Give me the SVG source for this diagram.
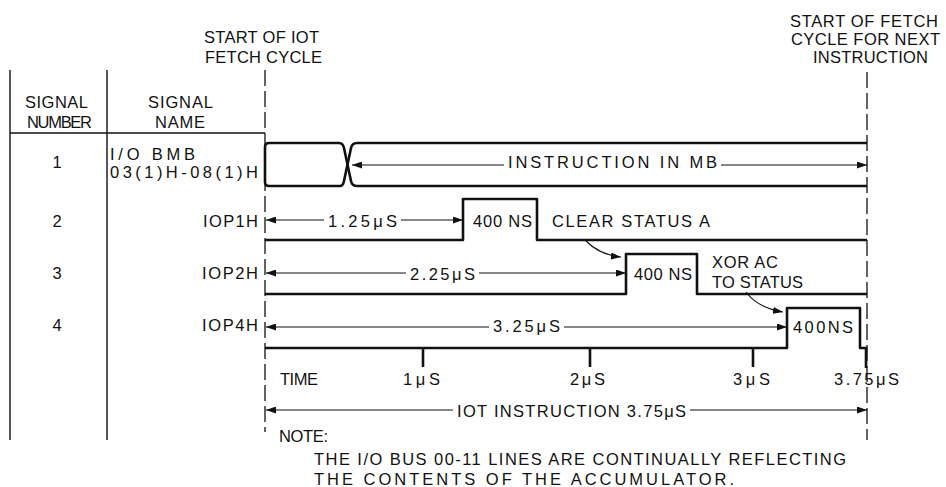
<svg xmlns="http://www.w3.org/2000/svg" width="946" height="487" viewBox="0 0 946 487">
<defs>
<marker id="ah" viewBox="0 0 10 7" refX="10" refY="3.5" markerWidth="10" markerHeight="7" markerUnits="userSpaceOnUse" orient="auto-start-reverse">
<path d="M0,0 L10,3.5 L0,7 z" fill="#111"/>
</marker>
<style>
text{font-family:"Liberation Sans",Arial,sans-serif;font-size:16.5px;fill:#111}
.m{text-anchor:middle}
.sig{fill:none;stroke:#111;stroke-width:2.6;stroke-linejoin:round}
.grid{fill:none;stroke:#111;stroke-width:1.4}
.dash{fill:none;stroke:#111;stroke-width:1.3;stroke-dasharray:16,5}
.arr{fill:none;stroke:#111;stroke-width:1.1}
.tick{stroke:#111;stroke-width:2.6}
</style>
</defs>
<rect width="946" height="487" fill="#fff"/>

<g id="table">
<line class="grid" x1="10" y1="70" x2="10" y2="440"/>
<line class="grid" x1="107" y1="70" x2="107" y2="440"/>
<line class="grid" x1="10" y1="133" x2="265" y2="133"/>
<line class="dash" x1="265" y1="70" x2="265" y2="432"/>
<line class="dash" x1="867" y1="72" x2="867" y2="440"/>
<text x="204" y="43" textLength="115" lengthAdjust="spacing">START OF IOT</text>
<text x="205" y="63" textLength="117" lengthAdjust="spacing">FETCH CYCLE</text>
<text x="25" y="108" textLength="63" lengthAdjust="spacing">SIGNAL</text>
<text x="27" y="128" textLength="65" lengthAdjust="spacing">NUMBER</text>
<text x="148" y="108" textLength="65" lengthAdjust="spacing">SIGNAL</text>
<text x="155" y="128" textLength="50" lengthAdjust="spacing">NAME</text>
<text x="790" y="27" textLength="148" lengthAdjust="spacing">START OF FETCH</text>
<text x="791" y="45" textLength="149" lengthAdjust="spacing">CYCLE FOR NEXT</text>
<text x="813" y="63" textLength="115" lengthAdjust="spacing">INSTRUCTION</text>
</g>

<g id="signal1">
<text class="m" x="57" y="168">1</text>
<text x="110" y="160" textLength="85" lengthAdjust="spacing">I/O BMB</text>
<text x="110" y="178" textLength="148" lengthAdjust="spacing">03(1)H-08(1)H</text>
<path class="sig" d="M340,186 L269,186 Q265,186 265,182 L265,147 Q265,143 269,143 L339,143 Q343,143 344,148 L351,181 Q352,186 357,186 L867,186"/>
<path class="sig" d="M340,186 Q343,186 344,181 L351,148 Q352,143 357,143 L867,143"/>
<text x="508" y="168" textLength="209" lengthAdjust="spacing">INSTRUCTION IN MB</text>
</g>

<g id="signal2">
<text class="m" x="57" y="227">2</text>
<text x="203" y="227" textLength="55" lengthAdjust="spacing">IOP1H</text>
<path class="sig" d="M265,240 L463,240 L463,199 L537,199 L537,240 L867,240"/>
<text x="328" y="227" textLength="69" lengthAdjust="spacing">1.25μS</text>
<text x="473" y="227" textLength="59" lengthAdjust="spacing">400 NS</text>
<text x="552" y="227" textLength="158" lengthAdjust="spacing">CLEAR STATUS A</text>
</g>

<g id="signal3">
<text class="m" x="57" y="279">3</text>
<text x="202" y="279" textLength="56" lengthAdjust="spacing">IOP2H</text>
<path class="sig" d="M265,294 L626,294 L626,254 L697,254 L697,294 L867,294"/>
<text x="410" y="280" textLength="65" lengthAdjust="spacing">2.25μS</text>
<text x="634" y="280" textLength="58" lengthAdjust="spacing">400 NS</text>
<text x="712" y="268" textLength="66" lengthAdjust="spacing">XOR AC</text>
<text x="712" y="288" textLength="91" lengthAdjust="spacing">TO STATUS</text>
</g>

<g id="signal4">
<text class="m" x="57" y="331">4</text>
<text x="202" y="331" textLength="56" lengthAdjust="spacing">IOP4H</text>
<path class="sig" d="M265,348 L787,348 L787,308 L860,308 L860,348 L866,348"/>
<text x="493" y="332" textLength="67" lengthAdjust="spacing">3.25μS</text>
<text x="793" y="333" textLength="60" lengthAdjust="spacing">400NS</text>
</g>

<g id="timeaxis">
<line class="tick" x1="423" y1="348" x2="423" y2="367"/>
<line class="tick" x1="590" y1="348" x2="590" y2="367"/>
<line class="tick" x1="753" y1="348" x2="753" y2="367"/>
<line class="tick" x1="866" y1="347" x2="866" y2="368"/>
<text x="280" y="385" textLength="38" lengthAdjust="spacing">TIME</text>
<text x="403" y="385" textLength="37" lengthAdjust="spacing">1μS</text>
<text x="570" y="385" textLength="35" lengthAdjust="spacing">2μS</text>
<text x="733" y="385" textLength="37" lengthAdjust="spacing">3μS</text>
<text x="834" y="385" textLength="65" lengthAdjust="spacing">3.75μS</text>
<text x="457" y="417" textLength="229" lengthAdjust="spacing">IOT INSTRUCTION 3.75μS</text>
</g>

<g id="note">
<text x="279" y="442" textLength="49" lengthAdjust="spacing">NOTE:</text>
<text x="314" y="465" textLength="532" lengthAdjust="spacing">THE I/O BUS 00-11 LINES ARE CONTINUALLY REFLECTING</text>
<text x="314" y="485" textLength="420" lengthAdjust="spacing">THE CONTENTS OF THE ACCUMULATOR.</text>
</g>

<g id="connectors">
<line class="arr" x1="352" y1="165" x2="504" y2="165" marker-start="url(#ah)"/>
<line class="arr" x1="721" y1="165" x2="867" y2="165" marker-end="url(#ah)"/>
<line class="arr" x1="266" y1="220" x2="324" y2="220" marker-start="url(#ah)"/>
<line class="arr" x1="401" y1="220" x2="463" y2="220" marker-end="url(#ah)"/>
<line class="arr" x1="266" y1="273" x2="406" y2="273" marker-start="url(#ah)"/>
<line class="arr" x1="479" y1="273" x2="626" y2="273" marker-end="url(#ah)"/>
<line class="arr" x1="266" y1="327" x2="489" y2="327" marker-start="url(#ah)"/>
<line class="arr" x1="564" y1="327" x2="787" y2="327" marker-end="url(#ah)"/>
<line class="arr" x1="266" y1="410" x2="453" y2="410" marker-start="url(#ah)"/>
<line class="arr" x1="690" y1="410" x2="867" y2="410" marker-end="url(#ah)"/>
<path class="arr" d="M586,241 Q600,255 621,257" marker-end="url(#ah)"/>
<path class="arr" d="M746,292 Q758,308 783,312" marker-end="url(#ah)"/>
</g>
</svg>
